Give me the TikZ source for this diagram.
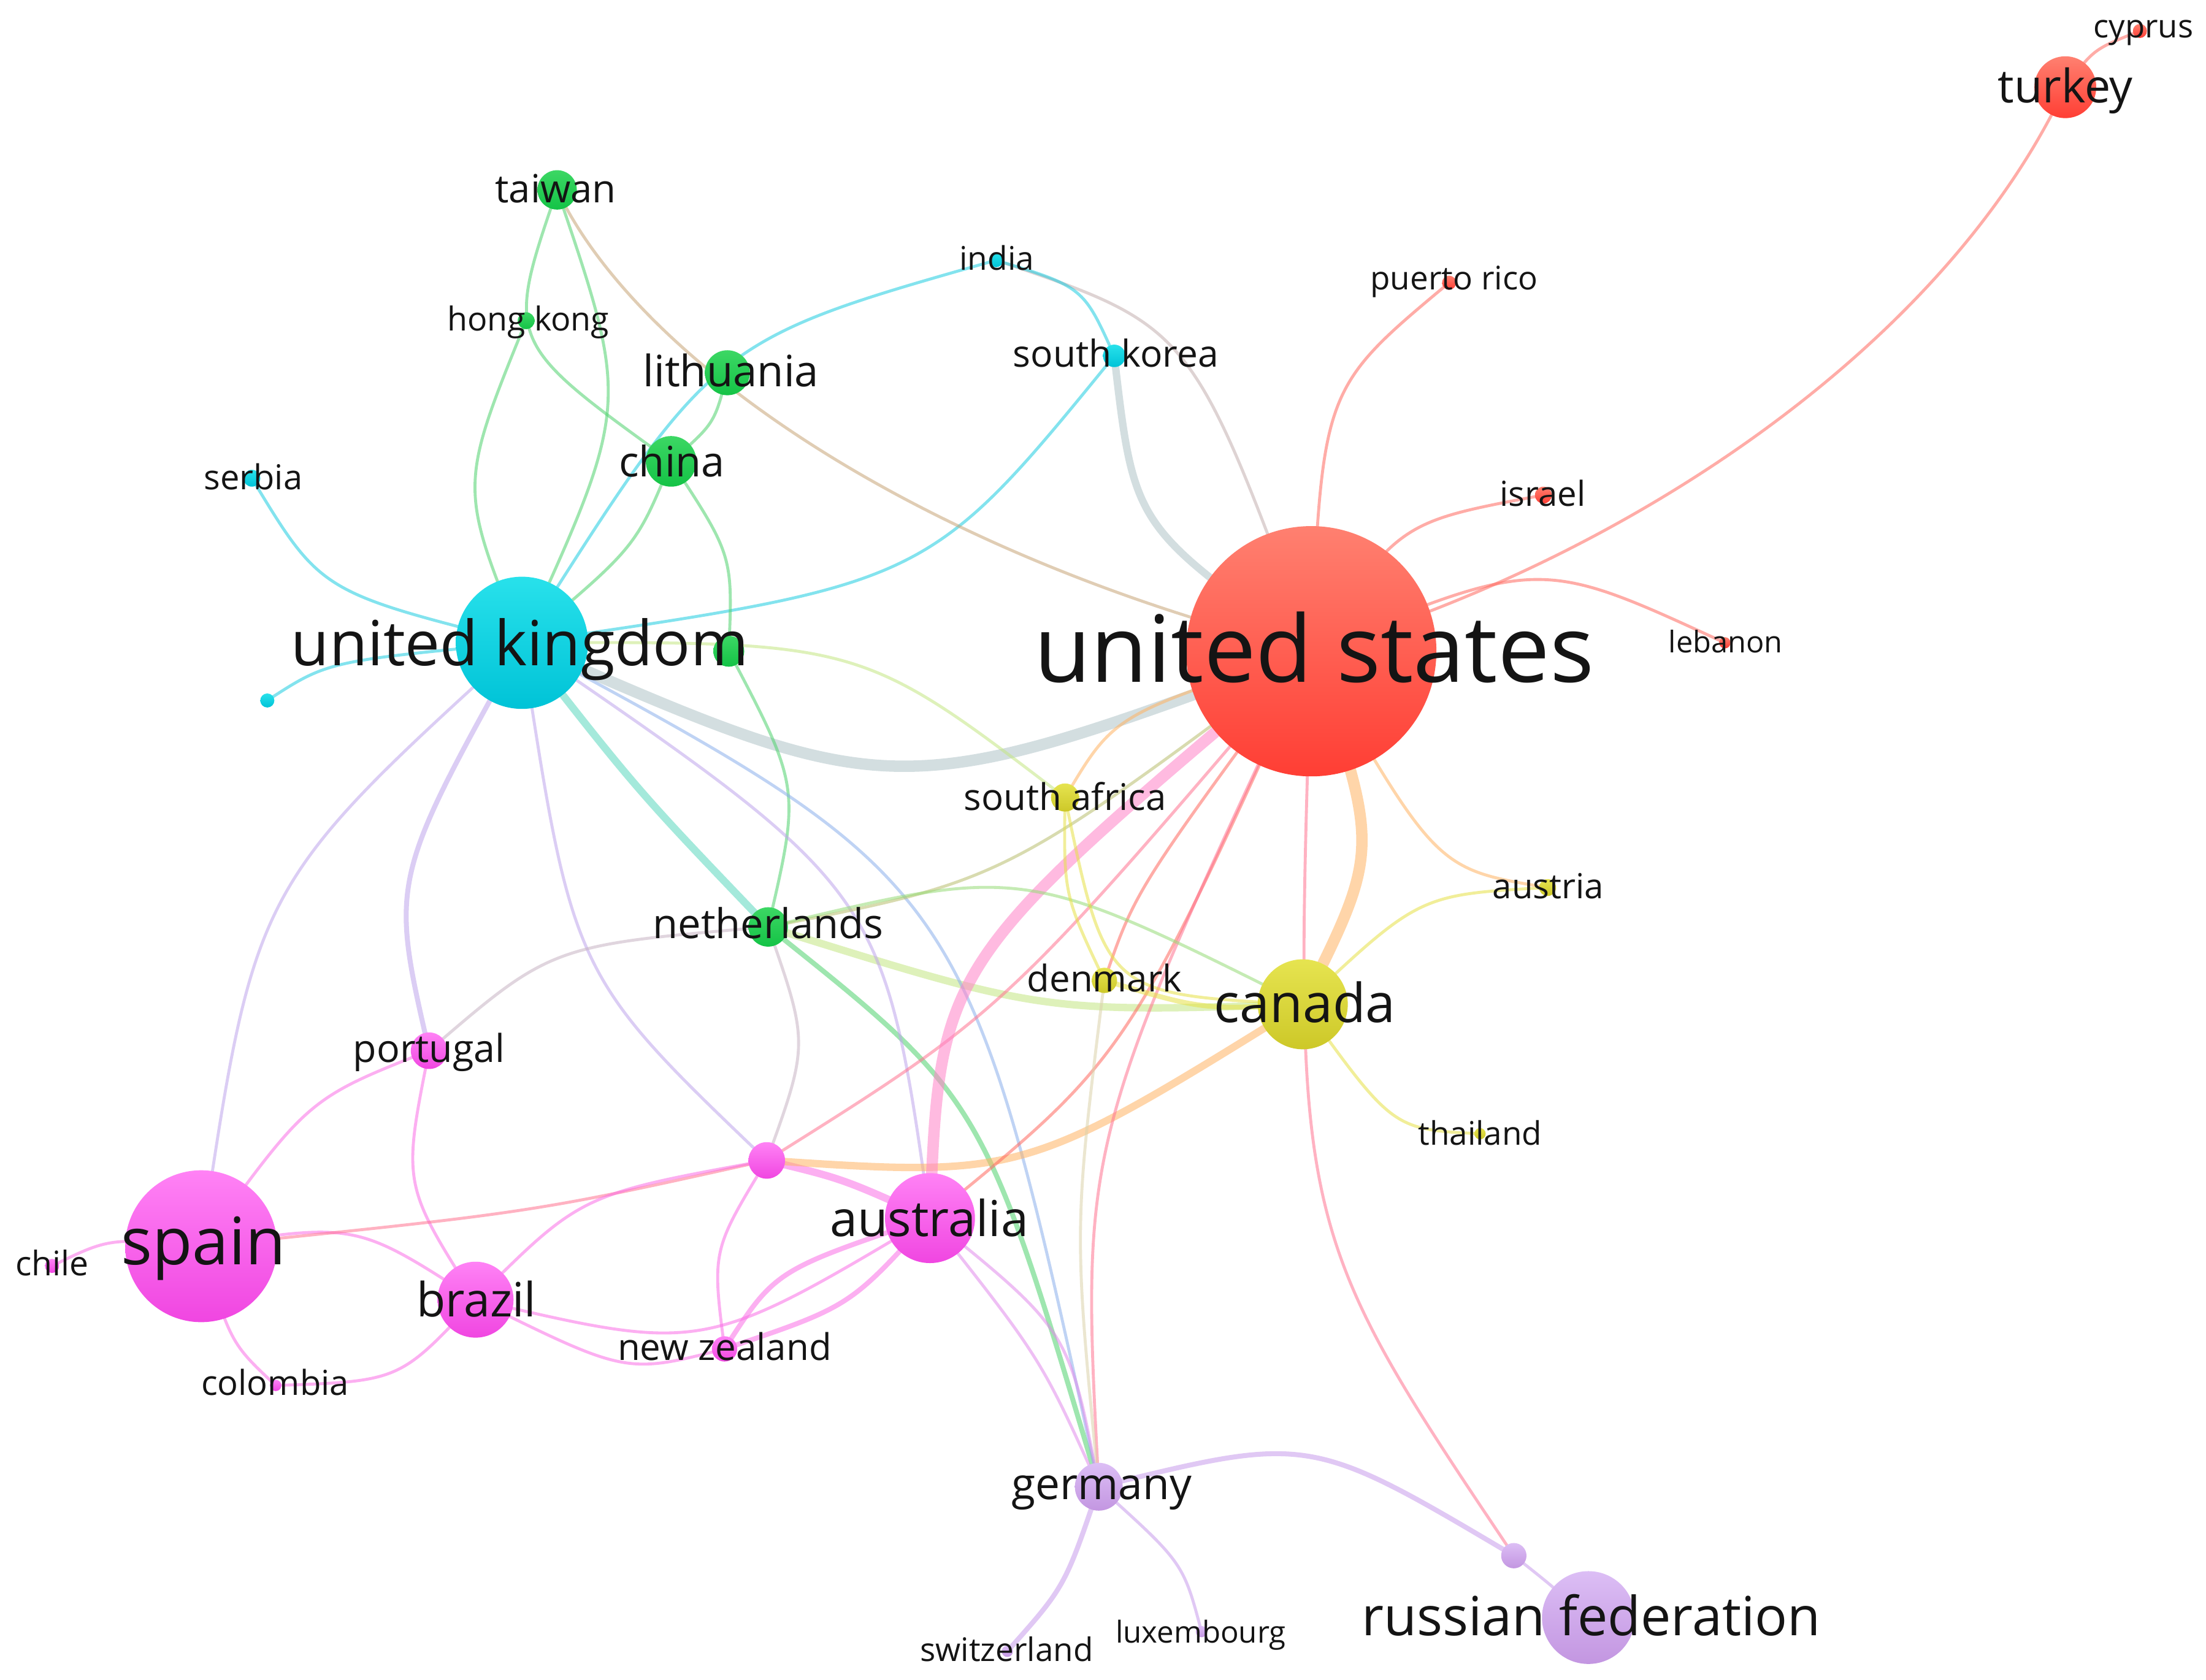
\documentclass[tikz,border=0pt]{standalone}
\usepackage{fontspec}
\usepackage{graphicx}
\setmainfont{Open Sans}
\pgfdeclarelayer{edges}
\pgfdeclarelayer{paper}
\pgfsetlayers{paper,edges,main}
\newlength\pxu
\setlength\pxu{0.02cm}
\definecolor{txt}{RGB}{20,20,20}
\definecolor{eR}{RGB}{255,105,95}
\definecolor{eC}{RGB}{30,205,225}
\definecolor{eG}{RGB}{80,210,110}
\definecolor{eG2}{RGB}{150,220,120}
\definecolor{eY}{RGB}{230,225,70}
\definecolor{eP}{RGB}{250,110,230}
\definecolor{eV}{RGB}{200,155,235}
\definecolor{eO}{RGB}{255,180,100}
\definecolor{eGray}{RGB}{175,195,200}
\definecolor{eGrayR}{RGB}{195,175,175}
\definecolor{eTan}{RGB}{200,165,120}
\definecolor{eLav}{RGB}{190,165,235}
\definecolor{eBlue}{RGB}{140,175,235}
\definecolor{eOlive}{RGB}{185,190,110}
\definecolor{ePG}{RGB}{200,180,195}
\definecolor{eRP}{RGB}{255,115,145}
\definecolor{eTeal}{RGB}{90,215,190}
\definecolor{eYG}{RGB}{195,230,130}
\definecolor{eYV}{RGB}{220,210,170}
\definecolor{ePV}{RGB}{225,140,235}
\definecolor{ePk}{RGB}{255,130,200}
\tikzset{
  ethin/.style={line width=1.2pt},
  emed/.style={line width=2pt},
  ethick/.style={line width=3pt},
  ebig/.style={line width=4.6pt},
  lbl/.style={anchor=base, inner sep=0pt, text=txt},
  fR/.style={top color={rgb,255:red,255;green,128;blue,112}, bottom color={rgb,255:red,255;green,62;blue,52}},
  fC/.style={top color={rgb,255:red,40;green,225;blue,235}, bottom color={rgb,255:red,0;green,195;blue,215}},
  fG/.style={top color={rgb,255:red,60;green,215;blue,100}, bottom color={rgb,255:red,20;green,195;blue,70}},
  fY/.style={top color={rgb,255:red,230;green,228;blue,80}, bottom color={rgb,255:red,205;green,200;blue,40}},
  fP/.style={top color={rgb,255:red,255;green,130;blue,245}, bottom color={rgb,255:red,240;green,70;blue,225}},
  fV/.style={top color={rgb,255:red,220;green,190;blue,245}, bottom color={rgb,255:red,195;green,150;blue,225}},
}
\newcommand\vnode[5]{\node[circle, inner sep=0pt, minimum size=#4*0.04cm, #5] (#1) at (#2,#3) {};}
\newcommand\lb[5]{\node[lbl] (#1) at (#2,#3) {\resizebox{#4\pxu}{!}{#5}};}
\newcommand\ed[4][]{\draw[line cap=round, draw opacity=0.55, #1] (#2.center) .. controls (#3) .. (#4.center);}
\begin{document}
\begin{tikzpicture}[x=0.02cm, y=-0.02cm]
\begin{pgfonlayer}{paper}
\fill[white] (0,0) rectangle (1568,1194);
\end{pgfonlayer}
\useasboundingbox (0,0) rectangle (1568,1194);
% nodes
\vnode{us}{932}{463}{89}{fR}
\vnode{tr}{1468}{62}{22}{fR}
\vnode{cy}{1521}{22}{5}{fR}
\vnode{pr}{1030}{201}{5}{fR}
\vnode{il}{1097}{352}{6}{fR}
\vnode{lb}{1226}{457}{4}{fR}
\vnode{uk}{371}{457}{47}{fC}
\vnode{rs}{179}{340}{6}{fC}
\vnode{ind}{708}{185}{5}{fC}
\vnode{kr}{792}{253}{8}{fC}
\vnode{cyd}{190}{498}{5}{fC}
\vnode{tw}{396}{135}{14}{fG}
\vnode{hk}{374}{228}{6}{fG}
\vnode{lt}{517}{265}{16}{fG}
\vnode{cn}{477}{328}{18}{fG}
\vnode{gn}{518}{463}{11}{fG}
\vnode{nl}{546}{659}{14}{fG}
\vnode{ca}{926}{714}{32}{fY}
\vnode{za}{757}{567}{10}{fY}
\vnode{at}{1100}{631}{6}{fY}
\vnode{dk}{785}{697}{9}{fY}
\vnode{th}{1052}{806}{4}{fY}
\vnode{es}{143}{886}{54}{fP}
\vnode{au}{661}{866}{32}{fP}
\vnode{br}{338}{924}{27}{fP}
\vnode{pt}{305}{747}{13}{fP}
\vnode{pk}{545}{825}{13}{fP}
\vnode{cl}{37}{900}{5}{fP}
\vnode{co}{196}{985}{4}{fP}
\vnode{nz}{515}{959}{9}{fP}
\vnode{de}{781}{1057}{17}{fV}
\vnode{ru}{1129}{1150}{33}{fV}
\vnode{pu}{1076}{1106}{9}{fV}
\vnode{ch}{716}{1174}{4}{fV}
\vnode{lu}{854}{1160}{4}{fV}
% edges
\begin{pgfonlayer}{edges}
\draw[line cap=round, draw opacity=0.55, eR, ethin] (us.center) .. controls (1150,400) and (1380,250) .. (tr.center);
\ed[eR,ethin]{tr}{1488,35}{cy}
\ed[eR,ethin]{us}{940,276}{pr}
\ed[eR,ethin]{us}{995,371}{il}
\ed[eR,ethin]{us}{1094,396}{lb}
\ed[eGray,ethick]{kr}{806,374}{us}
\ed[eGrayR,ethin]{ind}{847,232}{us}
\ed[eC,ethin]{ind}{770,204}{kr}
\ed[eC,ethin]{ind}{507,242}{uk}
\ed[eC,ethin]{kr}{660,415}{uk}
\ed[eGray,ebig]{uk}{636,573}{us}
\draw[line cap=round, draw opacity=0.55, eTan, ethin] (tw.center) .. controls (450,250) and (640,390) .. (us.center);
\ed[eG,ethin]{tw}{448,288}{uk}
\ed[eG,ethin]{tw}{359,243}{cn}
\ed[eG,ethin]{hk}{326,346}{uk}
\ed[eG,ethin]{lt}{508,301}{cn}
\ed[eG,ethin]{cn}{452,389}{uk}
\ed[eG,ethin]{cn}{521,395}{gn}
\ed[eG,ethin]{gn}{569,560}{nl}
\ed[ePG,ethin]{nl}{575,742}{pk}
\ed[eTeal,ethick]{uk}{453,562}{nl}
\ed[eYG,ethick]{nl}{741,720}{ca}
\ed[eG,emed]{nl}{699,781}{de}
\ed[eBlue,ethin]{uk}{688,628}{de}
\ed[eLav,ethin]{uk}{628,633}{au}
\ed[eLav,ethin]{uk}{407,693}{pk}
\ed[eLav,emed]{uk}{277,626}{pt}
\ed[eLav,ethin]{uk}{181,630}{es}
\ed[eC,ethin]{uk}{233,470}{cyd}
\ed[eC,ethin]{uk}{228,421}{rs}
\ed[ePG,ethin]{pt}{392,672}{nl}
\ed[eP,ethin]{pt}{219,781}{es}
\ed[eP,ethin]{pt}{286,842}{br}
\ed[eP,ethin]{es}{78,880}{cl}
\ed[eP,ethin]{es}{253,869}{br}
\ed[eP,ethin]{es}{164,955}{co}
\ed[eP,ethin]{br}{284,982}{co}
\ed[eRP,ethin]{es}{379,862}{pk}
\ed[eP,ethin]{br}{413,849}{pk}
\ed[eP,ethin]{br}{500,962}{au}
\ed[eP,ethin]{br}{445,977}{nz}
\ed[eP,emed]{nz}{551,903}{au}
\ed[eP,emed]{nz}{604,929}{au}
\ed[eP,ethin]{nz}{506,889}{pk}
\ed[eP,ethick]{pk}{599,838}{au}
\ed[eRP,ethin]{pk}{714,719}{us}
\ed[eO,ethick]{pk}{728,837}{ca}
\ed[ePk,ebig]{au}{668,685}{us}
\ed[eR,ethin]{au}{801,752}{us}
\ed[eR,ethin]{us}{807,633}{dk}
\ed[eRP,ethin]{us}{768,813}{de}
\ed[eOlive,ethin]{nl}{714,626}{us}
\ed[eG2,ethin]{nl}{728,615}{ca}
\ed[eO,ethin]{us}{792,508}{za}
\ed[eYG,ethin]{uk}{612,456}{za}
\ed[eY,ethin]{za}{756,636}{dk}
\ed[eYV,ethin]{dk}{763,874}{de}
\ed[eY,ethin]{za}{786,707}{ca}
\ed[eY,emed]{dk}{855,718}{ca}
\ed[eO,ebig]{us}{981,604}{ca}
\ed[eO,ethin]{us}{1021,618}{at}
\ed[eY,ethin]{ca}{1009,636}{at}
\ed[eY,ethin]{ca}{990,803}{th}
\ed[eRP,ethin]{us}{919,872}{pu}
\ed[eV,ethin]{pu}{1100,1125}{ru}
\ed[eV,emed]{de}{931,1020}{pu}
\ed[eV,emed]{de}{757,1128}{ch}
\ed[eV,ethin]{de}{841,1111}{lu}
\ed[ePV,ethin]{au}{740,966}{de}
\ed[ePV,ethin]{au}{760,946}{de}
\end{pgfonlayer}
% labels
\lb{l-tw}{395}{144}{86}{taiwan}
\lb{l-hk}{375.5}{235}{115}{hong kong}
\lb{l-lt}{519.5}{275}{125}{lithuania}
\lb{l-cn}{477.5}{339}{75}{china}
\lb{l-rs}{180}{348}{70}{serbia}
\lb{l-uk}{369.5}{473}{325}{united kingdom}
\lb{l-in}{708.5}{192}{53}{india}
\lb{l-kr}{793}{261}{146}{south korea}
\lb{l-us}{934}{485}{398}{united states}
\lb{l-pr}{1033.5}{206}{119}{puerto rico}
\lb{l-il}{1096.5}{360}{61}{israel}
\lb{l-lb}{1226.5}{464}{81}{lebanon}
\lb{l-tr}{1468}{73}{96}{turkey}
\lb{l-cy}{1523.5}{27}{71}{cyprus}
\lb{l-za}{757}{576}{144}{south africa}
\lb{l-nl}{546}{667}{164}{netherlands}
\lb{l-at}{1100.5}{639}{79}{austria}
\lb{l-dk}{785}{705}{110}{denmark}
\lb{l-ca}{927.5}{727}{129}{canada}
\lb{l-th}{1052}{814}{88}{thailand}
\lb{l-pt}{305}{755}{108}{portugal}
\lb{l-au}{660.5}{879}{141}{australia}
\lb{l-es}{144.5}{899}{117}{spain}
\lb{l-cl}{37}{907}{52}{chile}
\lb{l-br}{338.5}{936}{85}{brazil}
\lb{l-co}{195.5}{992}{105}{colombia}
\lb{l-nz}{515}{967}{152}{new zealand}
\lb{l-de}{783}{1066}{128}{germany}
\lb{l-ru}{1131}{1163}{326}{russian federation}
\lb{l-ch}{715.5}{1181}{123}{switzerland}
\lb{l-lu}{853.5}{1168}{121}{luxembourg}
\end{tikzpicture}
\end{document}
